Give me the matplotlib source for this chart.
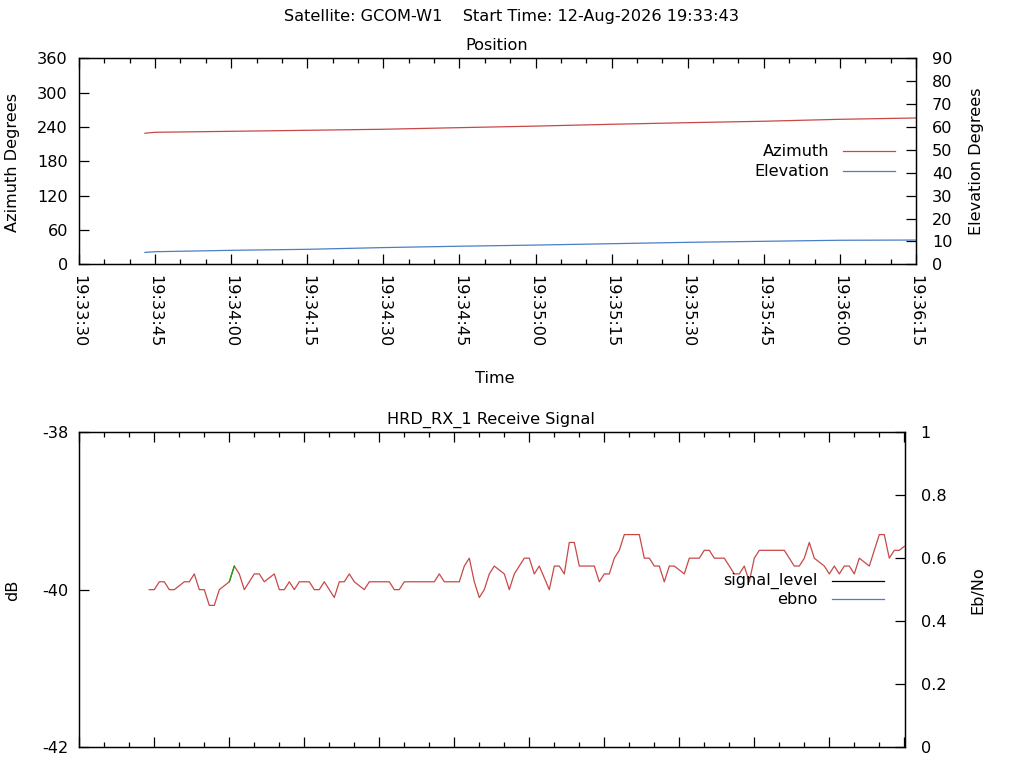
import matplotlib
matplotlib.use('Agg')
import matplotlib.pyplot as plt
from matplotlib.ticker import MultipleLocator, FuncFormatter
from matplotlib.lines import Line2D

plt.rc('font', family='DejaVu Sans', size=11.6)
plt.rc('axes', linewidth=0.9, unicode_minus=False)

# position track, times
pos_times = ['19:33:43', '19:33:45', '19:34:00', '19:34:15', '19:34:30', '19:34:45',
             '19:35:00', '19:35:15', '19:35:30', '19:35:45', '19:36:00', '19:36:15']
azimuth = [229.0, 230.7, 232.4, 234.2, 236.0, 238.8, 241.5, 244.7, 247.5, 250.0, 253.4, 255.7]
elevation = [5.2, 5.5, 6.1, 6.55, 7.3, 7.9, 8.4, 9.0, 9.6, 10.05, 10.5, 10.6]

# receive signal, one sample per second from 19:33:44
sig_start = '19:33:44'
sig_db = [-40.0, -40.0, -39.9, -39.9, -40.0, -40.0, -39.95, -39.9, -39.9, -39.8,
          -40.0, -40.0, -40.2, -40.2, -40.0, -39.95, -39.9, -39.7, -39.8, -40.0,
          -39.9, -39.8, -39.8, -39.9, -39.85, -39.8, -40.0, -40.0, -39.9, -40.0,
          -39.9, -39.9, -39.9, -40.0, -40.0, -39.9, -40.0, -40.1, -39.9, -39.9,
          -39.8, -39.9, -39.95, -40.0, -39.9, -39.9, -39.9, -39.9, -39.9, -40.0,
          -40.0, -39.9, -39.9, -39.9, -39.9, -39.9, -39.9, -39.9, -39.8, -39.9,
          -39.9, -39.9, -39.9, -39.7, -39.6, -39.9, -40.1, -40.0, -39.8, -39.7,
          -39.75, -39.8, -40.0, -39.8, -39.7, -39.6, -39.6, -39.8, -39.7, -39.85,
          -40.0, -39.7, -39.7, -39.8, -39.4, -39.4, -39.7, -39.7, -39.7, -39.7,
          -39.9, -39.8, -39.8, -39.6, -39.5, -39.3, -39.3, -39.3, -39.3, -39.6,
          -39.6, -39.7, -39.7, -39.9, -39.7, -39.7, -39.75, -39.8, -39.6, -39.6,
          -39.6, -39.5, -39.5, -39.6, -39.6, -39.6, -39.7, -39.8, -39.8, -39.7,
          -39.9, -39.6, -39.5, -39.5, -39.5, -39.5, -39.5, -39.5, -39.6, -39.7,
          -39.7, -39.6, -39.4, -39.6, -39.65, -39.7, -39.8, -39.7, -39.8, -39.7,
          -39.7, -39.8, -39.6, -39.65, -39.7, -39.5, -39.3, -39.3, -39.6, -39.5,
          -39.5, -39.45]
green_idx = [16, 17]

t0 = '19:33:30'

def secs(s):
    h, m, x = [int(v) for v in s.split(':')]
    return h*3600 + m*60 + x

def hms(v, pos=None):
    v = int(round(v)) + secs(t0)
    return '%02d:%02d:%02d' % (v//3600, (v//60) % 60, v % 60)

RED = '#c84848'
BLUE = '#4a7ec6'
GREEN = '#00b000'
W, H = 1024., 768.

def fx(x):
    return x/W

def fy(y):
    return 1 - y/H

fig = plt.figure(figsize=(10.24, 7.68), dpi=100)

# ---- top panel
ax1 = fig.add_axes([fx(79), fy(264.3), 837/W, 206/H])
px = [secs(s) - secs(t0) for s in pos_times]
ax1.plot(px, azimuth, color=RED, lw=0.9)
ax1.set_xlim(0, 165)
ax1.set_ylim(0, 360)
ax1.yaxis.set_major_locator(MultipleLocator(60))
ax1.xaxis.set_major_locator(MultipleLocator(15))
ax1.xaxis.set_minor_locator(MultipleLocator(5))
ax1.xaxis.set_major_formatter(FuncFormatter(hms))
ax1.tick_params(which='both', direction='in', top=True, right=False, width=0.9)
ax1.tick_params(which='major', length=7)
ax1.tick_params(which='minor', length=3.5)
ax1.tick_params(axis='y', pad=8)
ax1.tick_params(axis='x', pad=8, labelrotation=270)

ax1r = ax1.twinx()
ax1r.plot(px, elevation, color=BLUE, lw=0.9)
ax1r.set_ylim(0, 90)
ax1r.yaxis.set_major_locator(MultipleLocator(10))
ax1r.tick_params(direction='in', length=7, width=0.9, pad=11.5)

fig.text(fx(13), fy(162), 'Azimuth Degrees', rotation=90, ha='center', va='center')
fig.text(fx(977), fy(161), 'Elevation Degrees', rotation=90, ha='center', va='center')
fig.text(fx(495), fy(379), 'Time', ha='center', va='center')
fig.text(fx(497), fy(46), 'Position', ha='center', va='center')
fig.text(fx(511.5), fy(17), 'Satellite: GCOM-W1    Start Time: 12-Aug-2026 19:33:43',
         ha='center', va='center')

fig.text(fx(829.5), fy(156), 'Azimuth', ha='right', va='baseline')
fig.text(fx(829.5), fy(176), 'Elevation', ha='right', va='baseline')
fig.add_artist(Line2D([fx(843), fx(895)], [fy(151.3), fy(151.3)], color=RED, lw=0.9))
fig.add_artist(Line2D([fx(843), fx(895)], [fy(170.7), fy(170.7)], color=BLUE, lw=0.9))

# ---- bottom panel
ax2 = fig.add_axes([fx(79.3), fy(747), 826/W, 314.7/H])
st = secs(sig_start) - secs(t0)
sx = [st + i for i in range(len(sig_db))]
ax2.plot(sx, sig_db, color=RED, lw=0.9)
ax2.plot([sx[i] for i in green_idx], [sig_db[i] for i in green_idx], color=GREEN, lw=0.9)
ax2.set_xlim(0, 165.2)
ax2.set_ylim(-42, -38)
ax2.yaxis.set_major_locator(MultipleLocator(2))
ax2.xaxis.set_major_locator(MultipleLocator(15))
ax2.xaxis.set_minor_locator(MultipleLocator(5))
ax2.tick_params(which='both', direction='in', top=True, right=False, width=0.9,
                labelbottom=False)
ax2.tick_params(which='major', length=7)
ax2.tick_params(which='minor', length=3.5)
ax2.tick_params(axis='y', pad=8)

ax2r = ax2.twinx()
ax2r.set_ylim(0, 1)
ax2r.yaxis.set_major_locator(MultipleLocator(0.2))
ax2r.yaxis.set_major_formatter(FuncFormatter(lambda v, p: '%g' % round(v, 1)))
ax2r.tick_params(direction='in', length=7, width=0.9, pad=11)

fig.text(fx(13), fy(590), 'dB', rotation=90, ha='center', va='center')
fig.text(fx(978), fy(590), 'Eb/No', rotation=90, ha='center', va='center')
fig.text(fx(490.5), fy(420), 'HRD_RX_1 Receive Signal', ha='center', va='center')

fig.text(fx(818), fy(585), 'signal_level', ha='right', va='baseline')
fig.text(fx(818), fy(604), 'ebno', ha='right', va='baseline')
fig.add_artist(Line2D([fx(832), fx(884)], [fy(580.7), fy(580.7)], color='black', lw=0.9))
fig.add_artist(Line2D([fx(832), fx(884)], [fy(599.3), fy(599.3)], color=BLUE, lw=0.9))

fig.savefig('out.png', dpi=100)
